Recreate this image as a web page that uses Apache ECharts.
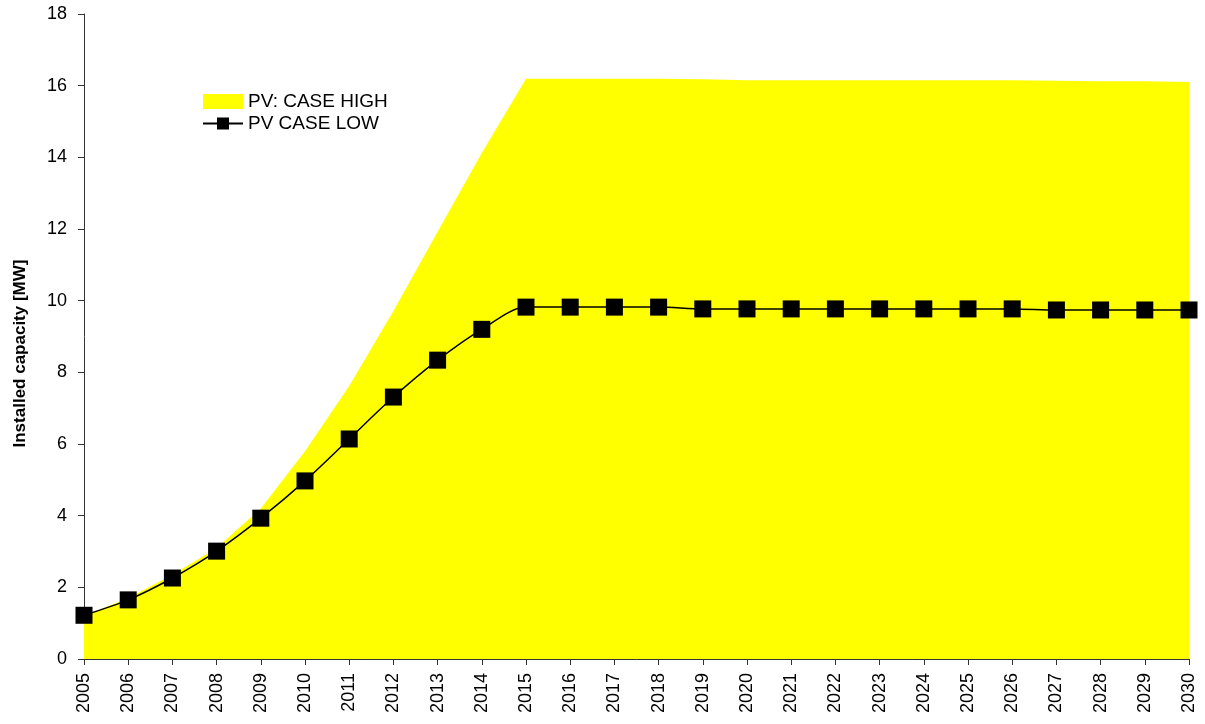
<!DOCTYPE html>
<html><head><meta charset="utf-8">
<script src="https://cdn.jsdelivr.net/npm/echarts@6/dist/echarts.min.js"></script>
<style>html,body{margin:0;padding:0;background:#fff}#c{width:1205px;height:724px}</style>
</head><body><div id="c"></div>
<script>
const years = ['2005','2006','2007','2008','2009','2010','2011','2012','2013','2014','2015','2016','2017','2018','2019','2020','2021','2022','2023','2024','2025','2026','2027','2028','2029','2030'];
const caseHigh = [1.2,1.7,2.35,3.1,4.2,5.8,7.62,9.71,11.92,14.12,16.19,16.19,16.19,16.19,16.18,16.15,16.15,16.15,16.15,16.15,16.15,16.15,16.14,16.12,16.12,16.1];
const caseLow = [1.22,1.65,2.26,3.01,3.93,4.97,6.14,7.31,8.34,9.2,9.82,9.82,9.82,9.82,9.77,9.77,9.77,9.77,9.77,9.77,9.77,9.77,9.74,9.74,9.74,9.74];
const yTicks = [0,2,4,6,8,10,12,14,16,18];
const font = 'Liberation Sans, Arial, sans-serif';
const chart = echarts.init(document.getElementById('c'));
chart.setOption({
  animation:false,
  grid:{left:84,right:16,top:14,bottom:65},
  legend:{
    orient:'vertical', left:197, top:87, itemWidth:40, itemHeight:15, itemGap:3,
    textStyle:{fontFamily:font,fontSize:19,color:'#000'},
    data:[{name:'PV: CASE HIGH',icon:'rect'},{name:'PV CASE LOW'}]
  },
  xAxis:{
    type:'category', data:years, boundaryGap:false,
    axisLine:{lineStyle:{color:'#333'}},
    axisTick:{length:6,lineStyle:{color:'#333'}},
    axisLabel:{rotate:90,fontFamily:font,fontSize:18,color:'#000',margin:14,interval:0}
  },
  yAxis:{
    type:'value', min:yTicks[0], max:yTicks[yTicks.length-1], interval:2,
    name:'Installed capacity [MW]', nameLocation:'middle', nameGap:55,
    nameTextStyle:{fontFamily:font,fontSize:17,fontWeight:'bold',color:'#000',padding:[0,34,0,0]},
    axisLine:{show:true,lineStyle:{color:'#333'}},
    axisTick:{show:true,length:6,lineStyle:{color:'#333'}},
    splitLine:{show:false},
    axisLabel:{fontFamily:font,fontSize:18,color:'#000',margin:17}
  },
  series:[
    {name:'PV: CASE HIGH',type:'line',data:caseHigh,smooth:false,symbol:'none',
     itemStyle:{color:'#FFFF00'},lineStyle:{width:0,color:'#FFFF00'},areaStyle:{color:'#FFFF00',opacity:1}},
    {name:'PV CASE LOW',type:'line',data:caseLow,smooth:0.3,symbol:'rect',symbolSize:17,
     itemStyle:{color:'#000'},lineStyle:{width:1.5,color:'#000'}}
  ]
});
</script></body></html>
